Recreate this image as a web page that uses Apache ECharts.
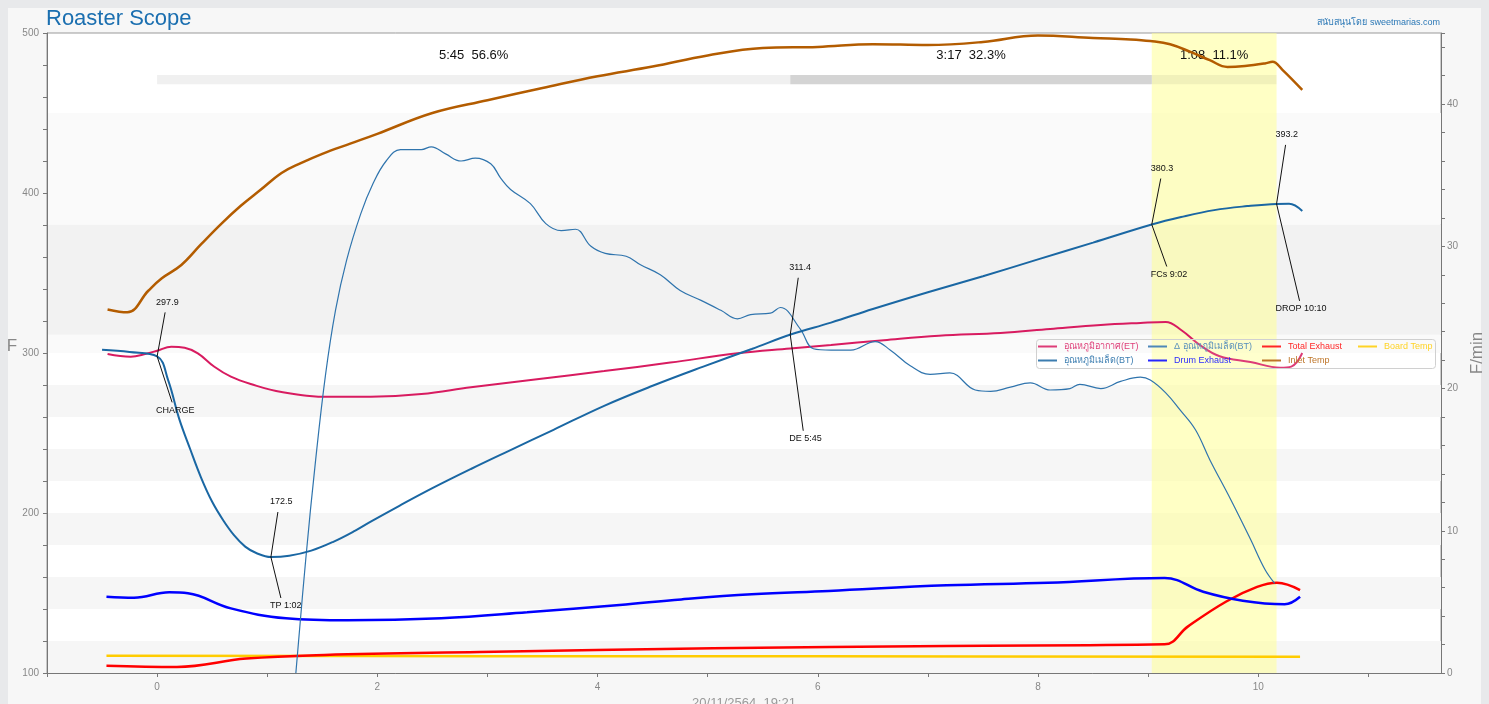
<!DOCTYPE html>
<html>
<head>
<meta charset="utf-8">
<title>Roaster Scope</title>
<script src="https://cdn.jsdelivr.net/npm/echarts@6.0.0/dist/echarts.min.js"></script>
<style>
html,body{margin:0;padding:0;background:#e8e9eb;overflow:hidden;}
#card{position:absolute;left:8px;top:8px;width:1473px;height:720px;background:#f7f7f7;}
#chart{position:absolute;left:0;top:0;width:1489px;height:704px;}
</style>
</head>
<body>
<div id="card"></div>
<div id="chart"></div>
<script>
var etTime = [-0.45,-0.24,-0.1,0,0.13,0.25,0.37,0.52,0.67,0.85,1.13,1.58,1.94,2.4,2.85,3.45,4.06,4.66,5.27,5.75,6.12,6.6,7.1,7.66,8.11,8.57,8.93,9.16,9.3,9.47,9.65,9.93,10.2,10.3,10.4];
var etTemp = [299.4,297.7,299.5,301.4,303.9,303.3,299.8,291.4,285.2,280.6,275.6,272.6,272.7,274.4,278.6,283.6,288.7,294,299.8,302.8,305,308,310.8,312.5,315,317.5,318.8,319.4,314.4,305,298,294.4,290.8,291.5,300];

var btTime = [-0.5,-0.25,0,0.1,0.2,0.3,0.4,0.5,0.6,0.7,0.8,0.9,1.033,1.2,1.4,1.6,1.8,1.94,2.2,2.5,2.85,3.2,3.6,4.06,4.5,4.96,5.4,5.76,6.12,6.5,7,7.5,8,8.5,9.033,9.3,9.6,9.9,10.167,10.28,10.4];
var btTemp = [302,300.6,297.9,283,259,240,222,207,195.5,186,179,175,172.5,173.3,176.5,182,189,194.6,204.5,215.5,227.5,239,252,267,279.5,291.5,302.5,311.7,319,327.5,338,348,358.5,369,380.3,385,389.3,391.8,393.2,393.3,388.8];

var rorTime = [1.26,1.35,1.44,1.53,1.62,1.72,1.85,1.96,2.08,2.21,2.4,2.49,2.62,2.76,2.89,3.03,3.12,3.21,3.39,3.53,3.67,3.8,3.94,4.07,4.26,4.39,4.57,4.75,4.94,5.12,5.27,5.39,5.57,5.66,5.84,5.96,6.12,6.3,6.52,6.66,6.84,7.02,7.2,7.43,7.57,7.75,7.93,8.11,8.29,8.38,8.57,8.75,8.93,9.02,9.16,9.29,9.43,9.56,9.75,9.93,10.06,10.15];
var rorVal = [0,8,15,21,25.5,29,32.3,34.4,36,36.8,36.8,37,36.5,36,36.2,35.8,34.8,34,33,31.6,31.1,31.2,30,29.5,29.3,28.7,28,26.9,26.2,25.5,24.9,25.2,25.3,25.7,24.2,22.8,22.7,22.7,23.3,22.7,21.6,21,21.1,19.9,19.8,20.1,20.4,19.9,20,20.3,20,20.5,20.8,20.6,19.7,18.5,17.1,15,12.2,9.4,7.3,6.3];

var drumTime = [-0.46,-0.21,0.11,0.28,0.67,1.17,1.73,2.58,3.36,4.2,4.76,5.4,6.1,7.17,8.09,9.15,9.5,9.86,10.24,10.38];
var drumTemp = [147.7,147,150.4,149.8,140.4,134.2,132.9,134.2,137.9,142.5,146,149.2,151.3,154.8,156.4,159.4,150.8,145.2,143,147.7];

var totalTime = [-0.46,0.18,0.81,1.52,2.93,5.05,7.17,9.15,9.36,9.71,9.99,10.17,10.38];
var totalTemp = [104.6,103.8,109,111.3,113.1,115.4,116.9,117.9,129,144.7,153.8,156.4,151.8];

var boardTime = [-0.46,3,6,10.38];
var boardTemp = [110.8,110.5,110.4,110.2];

var inletTime = [-0.45,-0.27,-0.08,0.04,0.22,0.4,0.58,0.76,0.94,1.13,1.3,1.5,1.76,2.0,2.5,3.0,3.5,4.0,4.5,5.0,5.5,6.0,6.5,7.0,7.5,8.0,8.5,8.84,9.02,9.2,9.39,9.56,9.72,9.88,10.06,10.13,10.22,10.4];
var inletTemp = [327.2,325.4,338.9,346.6,355,368,380.6,392,402,412.5,418.5,424.5,431,437,450,458,465.6,473,479,486,490.6,491.3,493,492.5,494.4,498.5,496.9,496,495,493,488,483,478.8,479.4,481,482,477,464.4];

// roast events (seconds from charge, bean temp)
var eventSec = [0, 62, 345, 542, 610];
var eventTemp = [297.9, 172.5, 311.4, 380.3, 393.2];
var eventName = ['CHARGE', 'TP 1:02', 'DE 5:45', 'FCs 9:02', 'DROP 10:10'];

var xTicks = [0, 2, 4, 6, 8, 10];

var NAME_ET = 'อุณหภูมิอากาศ(ET)';
var NAME_BT = 'อุณหภูมิเมล็ด(BT)';
var NAME_ROR = 'Δ อุณหภูมิเมล็ด(BT)';
var FONT = 'Arial, "Liberation Sans", "Noto Sans", sans-serif';

function zip(a, b) {
	var out = [];
	for (var i = 0; i < a.length; i++) out.push([a[i], b[i]]);
	return out;
}
function mmss(sec) {
	var s = sec % 60;
	return Math.floor(sec / 60) + ':' + (s < 10 ? '0' + s : s);
}

// phase bar: charge->DE, DE->FCs, FCs->DROP
var total = eventSec[4] - eventSec[0];
var phaseIdx = [[0, 2], [2, 3], [3, 4]];
var phaseColor = ['#f0f0f0', '#d4d4d4', 'rgba(0,0,0,0.055)'];
var barLo = 468, barHi = 473.8;
var phaseAreas = phaseIdx.map(function (p, i) {
	var d = eventSec[p[1]] - eventSec[p[0]];
	return [{
		xAxis: eventSec[p[0]] / 60, yAxis: barLo,
		itemStyle: {color: phaseColor[i]},
		label: {show: true, position: 'top', distance: 13, color: '#111', fontSize: 13, fontFamily: FONT,
			formatter: mmss(d) + '  ' + (d / total * 100).toFixed(1) + '%'}
	}, {xAxis: eventSec[p[1]] / 60, yAxis: barHi}];
});

// background stripes
var stripes = [[100,120],[140,160],[180,200],[220,240],[260,280]];
var bgAreas = stripes.map(function (s) {
	return [{yAxis: s[0], itemStyle: {color: '#f6f6f6'}}, {yAxis: s[1]}];
});
bgAreas.push([{yAxis: 300, itemStyle: {color: '#fafafa'}}, {yAxis: eventTemp[2]}]);
bgAreas.push([{yAxis: eventTemp[2], itemStyle: {color: '#f2f2f2'}}, {yAxis: eventTemp[3]}]);
bgAreas.push([{yAxis: eventTemp[3], itemStyle: {color: '#fafafa'}}, {yAxis: 450}]);
// development (yellow) zone
bgAreas.push([{xAxis: eventSec[3] / 60, itemStyle: {color: 'rgba(255,255,150,0.55)'}}, {xAxis: eventSec[4] / 60}]);

function lineSeries(name, data, color, width, yIdx) {
	return {
		name: name, type: 'line', data: data, yAxisIndex: yIdx || 0,
		smooth: 0.4, symbol: 'none', color: color,
		lineStyle: {color: color, width: width}
	};
}

var myChart = echarts.init(document.getElementById('chart'));

function legendAt(name, left, top, color) {
	return {
		data: [name], left: left, top: top, padding: 0, itemGap: 0,
		icon: 'rect', itemWidth: 19, itemHeight: 2,
		textStyle: {color: color, fontSize: 9, fontFamily: FONT, padding: [0, 0, 0, 2]}
	};
}

var axisGray = '#888';
var lineGray = '#777';
var option = {
	animation: false,
	backgroundColor: 'transparent',
	textStyle: {fontFamily: FONT},
	title: [{
		text: 'Roaster Scope', left: 46, top: 8, padding: 0,
		textStyle: {fontSize: 22, fontWeight: 'normal', color: '#1b6fb0', fontFamily: FONT}
	}, {
		text: 'สนับสนุนโดย sweetmarias.com', right: 49, top: 18, padding: 0,
		textStyle: {fontSize: 9, fontWeight: 'normal', color: '#2b78b6', fontFamily: FONT}
	}],
	legend: [
		legendAt(NAME_ET, 1038, 342, '#d81b60'),
		legendAt(NAME_BT, 1038, 356, '#1a67a3'),
		legendAt(NAME_ROR, 1148, 342, '#3a7bb0'),
		legendAt('Drum Exhaust', 1148, 356, '#0000ff'),
		legendAt('Total Exhaust', 1262, 342, '#ff0000'),
		legendAt('Inlet Temp', 1262, 356, '#b35c00'),
		legendAt('Board Temp', 1358, 342, '#ffcc00')
	],
	grid: {left: 47, right: 48, top: 33, bottom: 31, containLabel: false, outerBoundsMode: 'none',
		show: true, backgroundColor: '#fff', borderColor: '#999', borderWidth: 1},
	xAxis: {
		type: 'value', min: -1, max: 11.66, interval: 1, z: 5,
		name: '20/11/2564, 19:21', nameLocation: 'middle', nameGap: 23,
		nameTextStyle: {color: '#999', fontSize: 13},
		axisLine: {onZero: false, lineStyle: {color: lineGray}},
		axisTick: {length: 4, lineStyle: {color: lineGray}},
		axisLabel: {color: axisGray, fontSize: 10, margin: 9, showMaxLabel: false,
			formatter: function (v) { return xTicks.indexOf(v) >= 0 ? v : ''; }},
		splitLine: {show: false}
	},
	yAxis: [{
		type: 'value', min: 100, max: 500, interval: 100, position: 'left', z: 5,
		axisLine: {show: true, onZero: false, lineStyle: {color: lineGray}},
		axisTick: {show: true, length: 4, lineStyle: {color: lineGray}},
		minorTick: {show: true, splitNumber: 5, length: 4, lineStyle: {color: lineGray}},
		axisLabel: {color: axisGray, fontSize: 10, margin: 8},
		splitLine: {show: false}
	}, {
		type: 'value', min: 0, max: 45, interval: 10, position: 'right', z: 5,
		name: 'F/min', nameLocation: 'middle', nameGap: 22,
		nameTextStyle: {color: axisGray, fontSize: 17},
		axisLine: {show: true, onZero: false, lineStyle: {color: lineGray}},
		axisTick: {show: true, length: 4, lineStyle: {color: lineGray}},
		minorTick: {show: true, splitNumber: 5, length: 4, lineStyle: {color: lineGray}},
		axisLabel: {color: axisGray, fontSize: 10, margin: 6,
			formatter: function (v) { return v % 10 === 0 ? v : ''; }},
		splitLine: {show: false}
	}],
	series: [
		{
			name: 'bg', type: 'line', data: [], z: 1, silent: true,
			markArea: {silent: true, data: bgAreas.concat(phaseAreas)}
		},
		lineSeries('Board Temp', zip(boardTime, boardTemp), '#ffcc00', 2.5),
		lineSeries('Total Exhaust', zip(totalTime, totalTemp), '#ff0000', 2.5),
		lineSeries('Drum Exhaust', zip(drumTime, drumTemp), '#0000ff', 2.5),
		lineSeries('Inlet Temp', zip(inletTime, inletTemp), '#b35c00', 2.5),
		lineSeries(NAME_ET, zip(etTime, etTemp), '#d81b60', 2),
		lineSeries(NAME_ROR, zip(rorTime, rorVal), '#2f74ad', 1.2, 1),
		lineSeries(NAME_BT, zip(btTime, btTemp), '#1a67a3', 2)
	]
};
myChart.setOption(option);

// event annotations: pixel offsets of the two leader lines
var annUp = [[8,-44],[7,-45],[8,-57],[9,-46],[9,-59]];
var annDown = [[15,46],[10,41],[13,96],[15,42],[23,97]];
var graphics = [{
	type: 'rect', silent: true, z: 5,
	shape: {x: 1036.5, y: 339.5, width: 399, height: 29, r: 3},
	style: {fill: 'rgba(255,255,255,0.15)', stroke: '#d0d0d0', lineWidth: 1}
}, {
	// left axis unit
	type: 'text', silent: true,
	style: {text: 'F', x: 12, y: 346, fill: axisGray, font: '17px ' + FONT, textAlign: 'center', textVerticalAlign: 'middle'}
}];
for (var i = 0; i < eventSec.length; i++) {
	var p = myChart.convertToPixel({xAxisIndex: 0, yAxisIndex: 0}, [eventSec[i] / 60, eventTemp[i]]);
	var up = [p[0] + annUp[i][0], p[1] + annUp[i][1]];
	var dn = [p[0] + annDown[i][0], p[1] + annDown[i][1]];
	graphics.push({
		type: 'polyline', silent: true, z: 10,
		shape: {points: [up, p, dn]},
		style: {stroke: '#111', lineWidth: 1, fill: null}
	});
	graphics.push({
		type: 'text', silent: true, z: 10,
		style: {text: eventTemp[i].toFixed(1), x: p[0] - 1, y: up[1] - 10, fill: '#111', font: '9px ' + FONT, textAlign: 'left', textVerticalAlign: 'middle'}
	});
	graphics.push({
		type: 'text', silent: true, z: 10,
		style: {text: eventName[i], x: p[0] - 1, y: dn[1] + 8, fill: '#111', font: '9px ' + FONT, textAlign: 'left', textVerticalAlign: 'middle'}
	});
}
myChart.setOption({graphic: graphics});
</script>
</body>
</html>
